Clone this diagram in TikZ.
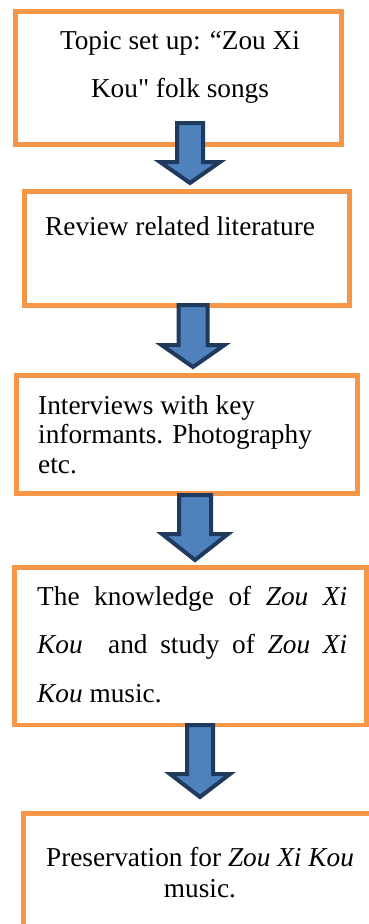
\documentclass[tikz,border=0pt]{standalone}
\usepackage{fontspec}
\setmainfont{Liberation Serif}
\definecolor{boxorange}{HTML}{F79646}
\definecolor{arrowfill}{HTML}{4F81BD}
\definecolor{arrowline}{HTML}{1F3A5C}
\newcommand{\flowarrow}[5]{% center x, top y, head y, tip y, shaft half width
  \draw[arrowstyle] (#1-#5,#2) -- (#1+#5,#2) -- (#1+#5,#3) -- (#1+#5+17,#3) -- (#1,#4) -- (#1-#5-17,#3) -- (#1-#5,#3) -- cycle;}
\begin{document}
\begin{tikzpicture}[x=1pt,y=-1pt,
  box/.style={draw=boxorange,line width=4.5pt,fill=white},
  arrowstyle/.style={draw=arrowline,fill=arrowfill,line width=4pt,line join=miter},
  txt/.style={inner sep=0pt,font=\fontsize{27.3}{32}\selectfont}]
\useasboundingbox (0,0) rectangle (369,924);
\begin{scope}
\clip (0,0) rectangle (369,924);
% boxes
\draw[box] (15.5,11.5) rectangle (341.5,144.5);
\draw[box] (24.5,191.5) rectangle (349.5,305.5);
\draw[box] (16.5,375.5) rectangle (357.5,493.5);
\draw[box] (14.5,567.5) rectangle (366.5,725);
\draw[box] (23.5,813.5) rectangle (380,940);
% texts
\node[txt,anchor=base] (t1a) at (180,49) {Topic set up: “Zou Xi};
\node[txt,anchor=base] (t1b) at (180,97) {Kou\textquotedbl{} folk songs};
\node[txt,anchor=base west] (t2) at (45,235) {Review related literature};
\node[txt,anchor=base west] (t3a) at (38,414) {Interviews with key};
\node[txt,anchor=base west] (t3b) at (38,443) {informants. Photography};
\node[txt,anchor=base west] (t3c) at (38,473) {etc.};
\node[txt,anchor=base west] (t4a) at (37,605) {\makebox[310pt][s]{The knowledge of \textit{Zou Xi}}};
\node[txt,anchor=base west] (t4b) at (37,653) {\makebox[310pt][s]{\textit{Kou} \ and study of \textit{Zou Xi}}};
\node[txt,anchor=base west] (t4c) at (37,702) {\textit{Kou} music.};
\node[txt,anchor=base] (t5a) at (200,866) {Preservation for \textit{Zou Xi Kou}};
\node[txt,anchor=base] (t5b) at (200,897) {music.};
% arrows
\flowarrow{190}{123}{162}{183}{13}
\flowarrow{193}{305}{345}{367}{14.5}
\flowarrow{195}{495}{534}{560}{16}
\flowarrow{200}{725}{774}{797}{13}
\end{scope}
\end{tikzpicture}
\end{document}
